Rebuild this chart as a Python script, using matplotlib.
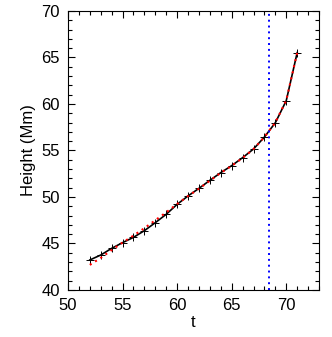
import matplotlib
matplotlib.use("Agg")
import matplotlib.pyplot as plt
from matplotlib.ticker import MultipleLocator

t = [52, 53, 54, 55, 56, 57, 58, 59, 60, 61, 62, 63, 64, 65, 66, 67, 68, 69, 70, 71]
height = [43.23, 43.76, 44.48, 45.09, 45.66, 46.38, 47.24, 48.14, 49.21, 50.11,
          50.93, 51.79, 52.62, 53.37, 54.23, 55.16, 56.45, 57.99, 60.36, 65.52]
fit = [42.7, 43.45, 44.3, 45.1, 45.85, 46.65, 47.5, 48.35, 49.25, 50.1,
       50.9, 51.75, 52.6, 53.35, 54.2, 55.15, 56.45, 58.0, 60.4, 65.5]
t_mark = 68.45

plt.rcParams['font.family'] = ['Liberation Sans', 'DejaVu Sans']
fig = plt.figure(figsize=(3.32, 3.37), dpi=100)
ax = fig.add_axes([68/332, 1-290/337, (319-68)/332, (290-11)/337])

ax.plot(t, height, color='black', lw=1.2, marker='+', ms=6, mew=0.7)
ax.plot(t, fit, color='red', lw=1.5, ls=(0, (1, 2)))
ax.axvline(t_mark, color='blue', lw=1.4, ls=(0, (1, 2)))

ax.set_xlim(50, 73)
ax.set_ylim(40, 70)
ax.xaxis.set_major_locator(MultipleLocator(5))
ax.xaxis.set_minor_locator(MultipleLocator(1))
ax.yaxis.set_major_locator(MultipleLocator(5))
ax.yaxis.set_minor_locator(MultipleLocator(1))
ax.tick_params(which='both', direction='in', top=True, right=True, labelsize=12, width=0.8)
ax.tick_params(which='major', length=5, pad=6)
ax.tick_params(which='minor', length=3)
for s in ax.spines.values():
    s.set_linewidth(0.8)
ax.set_xlabel('t', fontsize=12, labelpad=1)
ax.set_ylabel('Height (Mm)', fontsize=12, labelpad=4)

fig.savefig('out.png', dpi=100)
